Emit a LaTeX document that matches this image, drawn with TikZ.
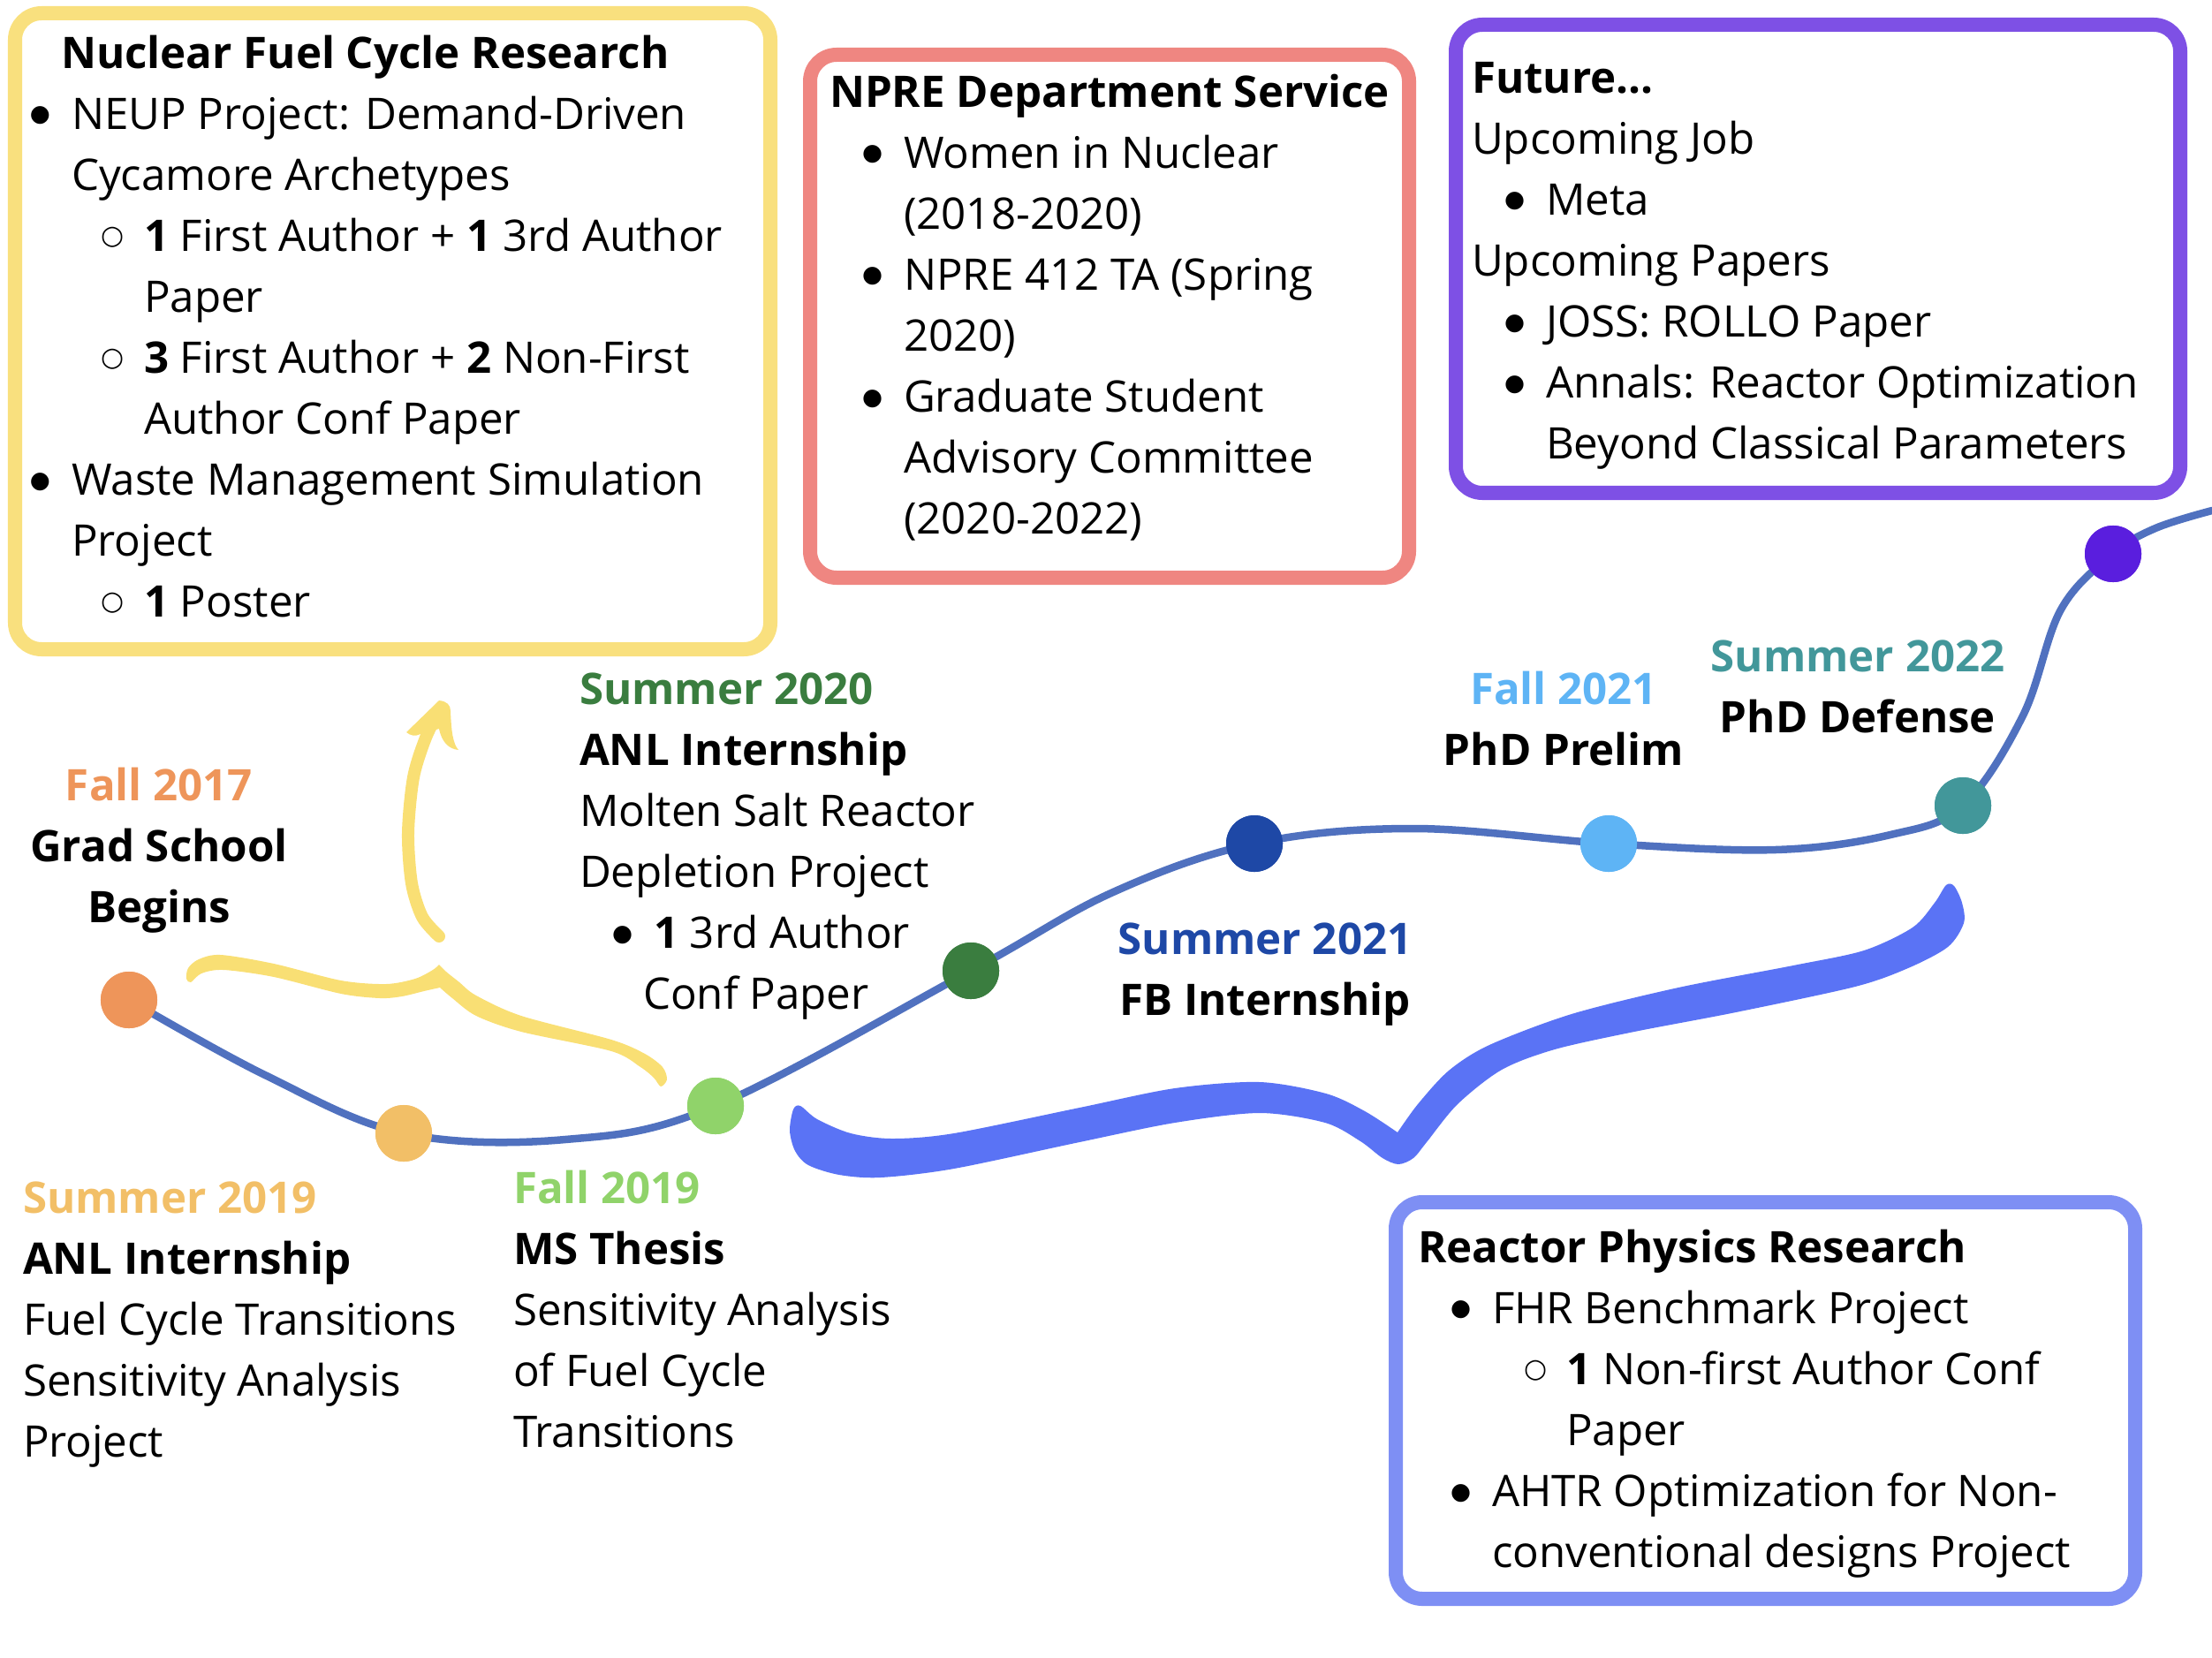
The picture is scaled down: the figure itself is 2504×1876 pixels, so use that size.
\documentclass[tikz,border=0pt]{standalone}
\usepackage{fontspec}
\setmainfont{Open Sans}
\newfontfamily\symfont{DejaVu Sans}

\definecolor{frameYellow}{HTML}{F9E07E}
\definecolor{frameRed}{HTML}{EF8681}
\definecolor{framePurple}{HTML}{7E50E5}
\definecolor{frameBlue}{HTML}{7E8FF4}
\definecolor{tline}{HTML}{5071BF}
\definecolor{braceBlue}{HTML}{5A73F5}
\definecolor{braceYellow}{HTML}{F9DF74}
\definecolor{cOrange}{HTML}{EE955A}
\definecolor{cSand}{HTML}{F2BF67}
\definecolor{cLime}{HTML}{90D36A}
\definecolor{cForest}{HTML}{3A7D3F}
\definecolor{cNavy}{HTML}{1E48A6}
\definecolor{cSky}{HTML}{5EB4F5}
\definecolor{cTeal}{HTML}{42979A}
\definecolor{cViolet}{HTML}{5A1EDE}

\newcommand\body{\fontsize{14pt}{19.63pt}\selectfont}
% list markers, set flush against the text that follows them
\newcommand\bul{\makebox[0.33cm][r]{\raisebox{2.4pt}{\symfont\fontsize{7.5pt}{0pt}\selectfont ●}\hspace{0.24cm}}}
\newcommand\cbul{\makebox[0.32cm][r]{\raisebox{2.2pt}{\symfont\fontsize{8.5pt}{0pt}\selectfont ○}\hspace{0.22cm}}}
\newcommand\ind[1]{\hspace*{#1cm}}

\tikzset{
  txt/.style={inner sep=0pt, outer sep=0pt, align=left, anchor=north west, font=\body},
  ctxt/.style={inner sep=0pt, outer sep=0pt, align=center, anchor=north, font=\body},
  frame/.style={line width=0.16cm, rounded corners=0.3cm},
  dot/.style={circle, minimum size=0.64cm, inner sep=0pt, fill=#1},
  timeline/.style={line width=0.085cm, draw=tline, line cap=round},
}

\begin{document}
\begin{tikzpicture}[x=0.01cm, y=-0.01cm]
\useasboundingbox (0,0) rectangle (2504,1876);

% framed boxes
\draw[frame, draw=frameYellow] (17,15) rectangle (872,735);
\draw[frame, draw=frameRed] (917,62) rectangle (1595,654);
\draw[frame, draw=framePurple] (1648,28) rectangle (2468,558);
\draw[frame, draw=frameBlue] (1580,1361) rectangle (2417,1810);

% box contents
\node[txt] (nfcText) at (48,29) {\strut\ind{0.21}\textbf{Nuclear Fuel Cycle Research}\\
\bul NEUP Project: Demand-Driven\\
\ind{0.33}Cycamore Archetypes\\
\ind{0.83}\cbul\textbf{1} First Author + \textbf{1} 3rd Author\\
\ind{1.15}Paper\\
\ind{0.83}\cbul\textbf{3} First Author + \textbf{2} Non-First\\
\ind{1.15}Author Conf Paper\\
\bul Waste Management Simulation\\
\ind{0.33}Project\\
\ind{0.83}\cbul\textbf{1} Poster};

\node[txt] (svcText) at (939,73) {\strut\textbf{NPRE Department Service}\\
\ind{0.51}\bul Women in Nuclear\\
\ind{0.84}(2018-2020)\\
\ind{0.51}\bul NPRE 412 TA (Spring\\
\ind{0.84}2020)\\
\ind{0.51}\bul Graduate Student\\
\ind{0.84}Advisory Committee\\
\ind{0.84}(2020-2022)};

\node[txt] (futText) at (1666,57) {\strut\textbf{Future...}\\
Upcoming Job\\
\ind{0.51}\bul Meta\\
Upcoming Papers\\
\ind{0.51}\bul JOSS: ROLLO Paper\\
\ind{0.51}\bul Annals: Reactor Optimization\\
\ind{0.84}Beyond Classical Parameters};

\node[txt] (rprText) at (1605,1381) {\strut\textbf{Reactor Physics Research}\\
\ind{0.51}\bul FHR Benchmark Project\\
\ind{1.36}\cbul\textbf{1} Non-first Author Conf\\
\ind{1.68}Paper\\
\ind{0.51}\bul AHTR Optimization for Non-\\
\ind{0.84}conventional designs Project};

% yellow brace and arrow
\fill[braceYellow] plot[smooth, tension=0.5] coordinates {
  (498,1118) (480,1122) (455,1128) (430,1130) (386,1125) (310,1106) (253,1098)
  (228,1102) (216,1112) (211,1108) (213,1096) (225,1086) (250,1081) (310,1091)
  (386,1110) (437,1114) (470,1108) (490,1098) (497,1092)}
  -- plot[smooth, tension=0.5] coordinates {(497,1092) (505,1100) (520,1112)
  (539,1127) (590,1150) (692,1177) (730,1193) (750,1208) (755,1222) (748,1230)
  (740,1220) (725,1208) (692,1190) (590,1168) (539,1150) (512,1130) (498,1118)}
  -- cycle;
\draw[braceYellow, line width=0.14cm, line cap=round] plot[smooth] coordinates {
  (497,1060) (478,1038) (466,1000) (462,943) (468,880) (482,835) (498,803)};
\fill[braceYellow] (460,829) -- (497,793) .. controls (506,794) and (510,798) .. (510,805)
  .. controls (511,830) and (513,842) .. (519,849) .. controls (508,848) and (500,840) .. (497,825)
  -- (476,831) .. controls (470,834) and (465,833) .. cycle;

% blue brace
\fill[braceBlue] plot[smooth, tension=0.5] coordinates {
  (1582,1282) (1545,1258) (1501,1238) (1426,1225) (1330,1232) (1222,1254) (1080,1283)
  (1010,1289) (963,1283) (925,1267) (906,1252) (898,1256) (894,1280) (900,1303)
  (915,1319) (950,1330) (997,1333) (1080,1323) (1222,1293) (1330,1271) (1426,1260)
  (1500,1271) (1540,1292) (1565,1311) (1583,1318) (1600,1311) (1615,1293) (1650,1250)
  (1700,1211) (1760,1188) (1850,1168) (1965,1146) (2100,1117) (2160,1096) (2205,1072)
  (2223,1045) (2221,1022) (2212,1003) (2203,1002) (2190,1022) (2165,1050) (2110,1076)
  (2030,1093) (1900,1118) (1779,1148) (1686,1183) (1640,1212) (1605,1250) (1582,1282)}
  -- cycle;

% timeline stops
\node[dot=cOrange] (c1) at (146,1132) {};
\node[dot=cSand] (c2) at (457,1283) {};
\node[dot=cLime] (c3) at (810,1252) {};
\node[dot=cForest] (c4) at (1099,1099) {};
\node[dot=cNavy] (c5) at (1420,955) {};
\node[dot=cSky] (c6) at (1821,955) {};
\node[dot=cTeal] (c7) at (2222,912) {};
\node[dot=cViolet] (c8) at (2392,627) {};
\coordinate (tEnd) at (2504,578);

\draw[timeline] plot[smooth, tension=0.6] coordinates {
  (c1.center) (300,1217) (c2.center) (640,1290) (c3.center) (c4.center) (1260,1010)
  (c5.center) (1600,938) (c6.center) (2010,962) (2140,945) (c7.center) (2290,810)
  (2333,690) (c8.center) (2440,598) (tEnd)};
% stops sit above the line
\foreach \n/\c in {c1/cOrange,c2/cSand,c3/cLime,c4/cForest,c5/cNavy,c6/cSky,c7/cTeal,c8/cViolet}
  \fill[\c] (\n) circle (0.32cm);

% milestone labels
\node[ctxt] (f17) at (180,858) {\strut\textcolor{cOrange}{\textbf{Fall 2017}}\\
\textbf{Grad School}\\ \textbf{Begins}};

\node[txt] (s19) at (26,1325) {\strut\textcolor{cSand}{\textbf{Summer 2019}}\\
\textbf{ANL Internship}\\
Fuel Cycle Transitions\\
Sensitivity Analysis\\
Project};

\node[txt] (f19) at (581,1314) {\strut\textcolor{cLime}{\textbf{Fall 2019}}\\
\textbf{MS Thesis}\\
Sensitivity Analysis\\
of Fuel Cycle\\
Transitions};

\node[txt] (s20) at (656,749) {\strut\textcolor{cForest}{\textbf{Summer 2020}}\\
\textbf{ANL Internship}\\
Molten Salt Reactor\\
Depletion Project\\
\ind{0.51}\bul\textbf{1} 3rd Author\\
\ind{0.72}Conf Paper};

\node[ctxt] (s21) at (1432,1032) {\strut\textcolor{cNavy}{\textbf{Summer 2021}}\\
\textbf{FB Internship}};

\node[ctxt] (f21) at (1770,749) {\strut\textcolor{cSky}{\textbf{Fall 2021}}\\
\textbf{PhD Prelim}};

\node[ctxt] (s22) at (2103,712) {\strut\textcolor{cTeal}{\textbf{Summer 2022}}\\
\textbf{PhD Defense}};
\end{tikzpicture}
\end{document}
